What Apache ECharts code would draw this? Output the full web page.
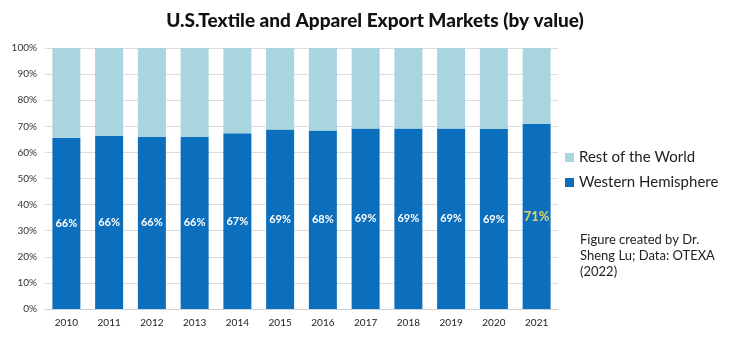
<!DOCTYPE html>
<html><head><meta charset="utf-8">
<script src="https://cdn.jsdelivr.net/npm/echarts@6/dist/echarts.min.js"></script>
<style>html,body{margin:0;padding:0;background:#fff}#c{width:729px;height:340px}</style>
</head><body><div id="c"></div>
<script>
const years = ['2010','2011','2012','2013','2014','2015','2016','2017','2018','2019','2020','2021'];
const western = [65.6, 66.4, 66.0, 66.0, 67.3, 68.8, 68.4, 69.2, 69.2, 69.2, 69.0, 71.0];
const westernLabels = ['66%','66%','66%','66%','67%','69%','68%','69%','69%','69%','69%','71%'];
const rest = western.map(v => +(100 - v).toFixed(1));
const yTicks = [0,10,20,30,40,50,60,70,80,90,100];

const chart = echarts.init(document.getElementById('c'));
const font = 'Lato, "Open Sans", sans-serif';
const westernData = western.map((v, i) => i === years.length - 1
  ? {value: v, label: {color: '#e6d36a', fontSize: 13}} : v);
chart.setOption({
  animation: false,
  title: {text: 'U.S.Textile and Apparel Export Markets (by value)', left: 370, top: 6, textAlign: 'center',
    textStyle: {fontFamily: font, fontSize: 19, fontWeight: 900, color: '#111'}},
  legend: {orient: 'vertical', left: 560, top: 145, itemWidth: 9, itemHeight: 9, itemGap: 10,
    icon: 'rect', data: ['Rest of the World', 'Western Hemisphere'],
    textStyle: {fontFamily: font, fontSize: 15, color: '#222'}},
  grid: {left: 45, right: 171, top: 48, bottom: 31},
  xAxis: {type: 'category', data: years,
    axisLine: {lineStyle: {color: '#d0d0d0'}}, axisTick: {show: false},
    axisLabel: {fontFamily: font, fontSize: 10, color: '#222', margin: 9}},
  yAxis: {type: 'value', min: 0, max: 100, interval: 10,
    axisLabel: {fontFamily: font, fontSize: 10, color: '#333', formatter: v => yTicks.includes(v) ? v + '%' : ''},
    splitLine: {lineStyle: {color: '#dcdcdc'}}, axisLine: {show: false}, axisTick: {show: false}},
  series: [
    {name: 'Western Hemisphere', type: 'bar', stack: 's', barWidth: 28, data: westernData,
      itemStyle: {color: '#0b6fbd'},
      label: {show: true, position: 'inside', fontFamily: font, fontWeight: 'bold', fontSize: 11,
        formatter: p => westernLabels[p.dataIndex], color: '#fff'}},
    {name: 'Rest of the World', type: 'bar', stack: 's', barWidth: 28, data: rest,
      itemStyle: {color: '#a9d5de'}}
  ],
  graphic: [{type: 'text', left: 580, top: 232,
    style: {text: 'Figure created by Dr.\nSheng Lu; Data: OTEXA\n(2022)', fontFamily: font, fontSize: 13,
      lineHeight: 16, fill: '#222'}}]
});
</script></body></html>
